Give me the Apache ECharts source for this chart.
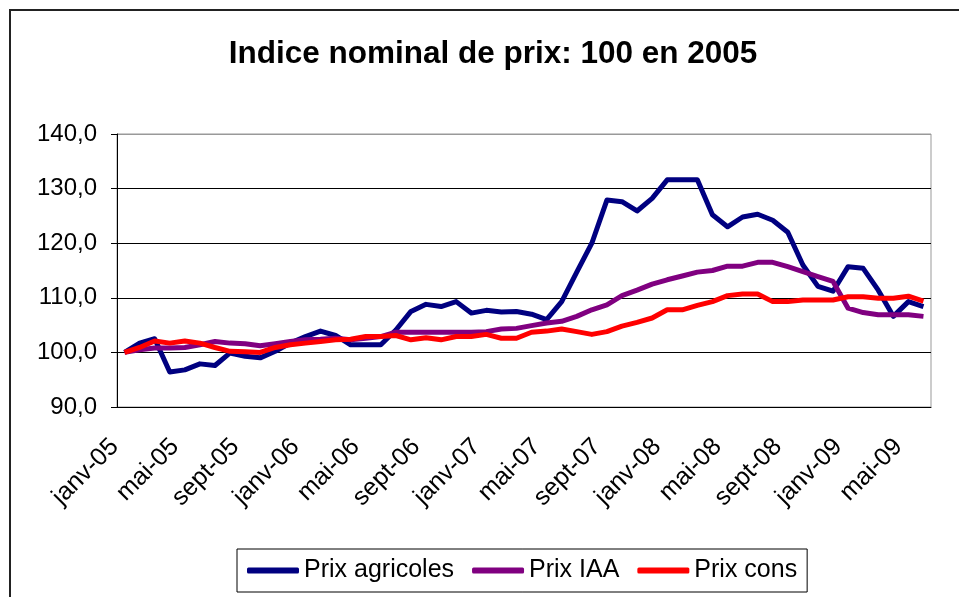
<!DOCTYPE html>
<html>
<head>
<meta charset="utf-8">
<script src="https://cdn.jsdelivr.net/npm/echarts@6/dist/echarts.min.js"></script>
<style>
  html, body { margin: 0; padding: 0; background: #fff; }
  #chart { width: 959px; height: 597px; }
</style>
</head>
<body>
<div id="chart"></div>
<script>
// monthly categories, janv-05 .. juin-09
var months = ["janv", "févr", "mars", "avr", "mai", "juin",
              "juil", "août", "sept", "oct", "nov", "déc"];
var years = ["05", "06", "07", "08", "09"];
var categories = [];
years.forEach(function (y) {
  months.forEach(function (m) { categories.push(m + "-" + y); });
});
categories = categories.slice(0, 54);

var prixAgricoles = [
  100.0, 101.7, 102.5, 96.4, 96.8, 97.9, 97.6, 99.9, 99.3, 99.0,
  100.2, 101.7, 102.9, 103.9, 103.1, 101.4, 101.4, 101.4, 104.1, 107.5,
  108.8, 108.4, 109.3, 107.2, 107.7, 107.4, 107.5, 107.0, 106.0, 109.3,
  114.7, 120.0, 127.9, 127.6, 125.9, 128.2, 131.6, 131.6, 131.6, 125.2,
  123.0, 124.8, 125.3, 124.2, 122.0, 116.0, 112.1, 111.2, 115.7, 115.4,
  111.4, 106.6, 109.3, 108.4
];
var prixIAA = [
  100.0, 100.5, 100.8, 100.8, 100.9, 101.4, 102.0, 101.7, 101.6, 101.2,
  101.6, 102.0, 102.3, 102.4, 102.6, 102.3, 102.6, 102.9, 103.7, 103.7,
  103.7, 103.7, 103.7, 103.7, 103.8, 104.3, 104.4, 104.9, 105.4, 105.7,
  106.6, 107.8, 108.7, 110.4, 111.4, 112.5, 113.3, 114.0, 114.7, 115.0,
  115.8, 115.8, 116.5, 116.5, 115.7, 114.8, 113.9, 113.0, 108.1, 107.3,
  106.9, 106.9, 106.9, 106.6
];
var prixCons = [
  100.0, 100.9, 102.1, 101.7, 102.1, 101.7, 100.9, 100.2, 100.1, 100.0,
  100.9, 101.4, 101.7, 102.0, 102.3, 102.4, 102.9, 102.9, 103.1, 102.3,
  102.7, 102.3, 102.9, 102.9, 103.3, 102.6, 102.6, 103.7, 103.9, 104.3,
  103.8, 103.3, 103.8, 104.8, 105.5, 106.3, 107.8, 107.8, 108.6, 109.3,
  110.4, 110.7, 110.7, 109.3, 109.3, 109.6, 109.6, 109.6, 110.2, 110.2,
  109.9, 109.9, 110.3, 109.4
];
var seriesNames = ["Prix agricoles", "Prix IAA", "Prix cons"];
var seriesColors = ["#000080", "#800080", "#FF0000"];

var font = 'Arial, "Liberation Sans", sans-serif';

var chart = echarts.init(document.getElementById("chart"), null, { renderer: "canvas" });

chart.setOption({
  animation: false,
  backgroundColor: "#fff",
  textStyle: { fontFamily: font, color: "#000" },
  title: {
    text: "Indice nominal de prix: 100 en 2005",
    left: 488, top: 33, textAlign: "center",
    textStyle: { fontFamily: font, fontSize: 31.5, fontWeight: "bold", color: "#000" }
  },
  graphic: [{
    type: "rect", silent: true, z: -1,
    shape: { x: 10, y: 10, width: 2000, height: 2000 },
    style: { fill: "none", stroke: "#222", lineWidth: 2 }
  }],
  legend: {
    left: 237, top: 549,
    padding: [9, 10],
    itemWidth: 52, itemHeight: 6, itemGap: 18,
    icon: "roundRect",
    borderColor: "#000", borderWidth: 1,
    textStyle: { fontFamily: font, fontSize: 25, color: "#000" },
    data: seriesNames
  },
  grid: {
    left: 117, top: 134, right: 28, bottom: 190,
    show: true, borderColor: "#999", borderWidth: 1
  },
  xAxis: {
    type: "category",
    data: categories,
    boundaryGap: true,
    axisLine: { lineStyle: { color: "#000", width: 1 } },
    axisTick: { interval: 3, length: 8, lineStyle: { color: "#000" } },
    axisLabel: {
      interval: 3, rotate: 45, margin: 26, padding: [0, 14, 0, 0],
      fontFamily: font, fontSize: 25, color: "#000"
    },
    splitLine: { show: false }
  },
  yAxis: {
    type: "value",
    min: 90, max: 140, interval: 10,
    axisLine: { show: true, lineStyle: { color: "#000", width: 1 } },
    axisTick: { show: true, length: 6, lineStyle: { color: "#000" } },
    axisLabel: {
      margin: 20, fontFamily: font, fontSize: 24, color: "#000",
      formatter: function (v) { return v.toFixed(1).replace(".", ","); }
    },
    splitLine: { lineStyle: { color: ["#000", "#000", "#000", "#000", "#000", "#999"], width: 1 } }
  },
  series: [prixAgricoles, prixIAA, prixCons].map(function (d, i) {
    return {
      name: seriesNames[i],
      type: "line",
      data: d,
      symbol: "none",
      color: seriesColors[i],
      lineStyle: { width: 5, color: seriesColors[i], join: "round" }
    };
  })
});
</script>
</body>
</html>
